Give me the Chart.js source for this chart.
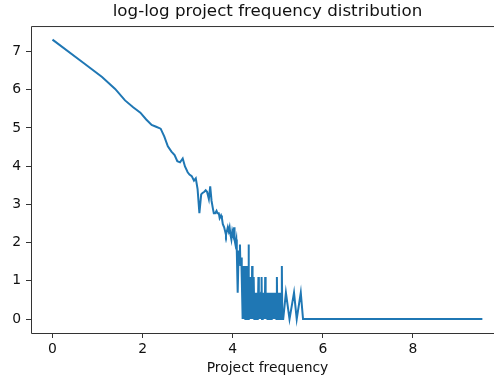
<!DOCTYPE html>
<html>
<head>
<meta charset="utf-8">
<script src="https://cdn.jsdelivr.net/npm/chart.js@4/dist/chart.umd.min.js"></script>
<style>
  html, body { margin: 0; padding: 0; background: #fff; overflow: hidden; }
  #wrap { width: 494px; height: 381px; overflow: hidden; position: relative; }
  #freqChart { position: absolute; left: 0; top: 0; }
</style>
</head>
<body>
<div id="wrap"><canvas id="freqChart" width="535" height="381"></canvas></div>
<script>
// ln(project frequency) and ln(number of users with that frequency)
const logFrequency = [
  0, 0.69, 1.10, 1.39, 1.61, 1.79, 1.95, 2.08, 2.20, 2.30,
  2.40, 2.48, 2.56, 2.64, 2.71, 2.77, 2.83, 2.89, 2.94, 3.00,
  3.04, 3.09, 3.14, 3.18, 3.22, 3.26, 3.30, 3.33, 3.37, 3.40,
  3.43, 3.47, 3.50, 3.53, 3.56, 3.58, 3.61, 3.64, 3.66, 3.69,
  3.71, 3.74, 3.76, 3.78, 3.81, 3.83, 3.85, 3.87, 3.89, 3.91,
  3.93, 3.95, 3.97, 3.99, 4.01, 4.03, 4.04, 4.06, 4.08, 4.09,
  4.11, 4.13, 4.14, 4.16, 4.17, 4.19, 4.20,
  4.22, 4.23, 4.24, 4.25, 4.26, 4.27, 4.28, 4.29, 4.30, 4.31,
  4.32, 4.33, 4.34, 4.35, 4.36, 4.37, 4.38, 4.39, 4.40, 4.41,
  4.42, 4.43, 4.44, 4.45, 4.46, 4.47, 4.48, 4.49, 4.50, 4.51,
  4.52, 4.53, 4.54, 4.55, 4.56, 4.57, 4.58, 4.59, 4.60, 4.61,
  4.62, 4.63, 4.64, 4.65, 4.66, 4.67, 4.68, 4.69, 4.70, 4.71,
  4.72, 4.73, 4.74, 4.75, 4.76, 4.77, 4.78, 4.79, 4.80, 4.81,
  4.82, 4.83, 4.84, 4.85, 4.86, 4.87, 4.88, 4.89, 4.90, 4.91,
  4.92, 4.93, 4.94, 4.95, 4.96, 4.97, 4.98, 4.99, 5.00, 5.01,
  5.02, 5.03, 5.04, 5.05, 5.06, 5.07, 5.08, 5.09, 5.10,
  5.12, 5.18, 5.26, 5.36, 5.42, 5.51, 5.56, 5.76, 6.12, 6.55, 7.21, 8.03, 9.54
];
const logCount = [
  7.31, 6.70, 6.33, 6.02, 5.72, 5.54, 5.40, 5.22, 5.08, 5.03,
  4.98, 4.78, 4.52, 4.38, 4.29, 4.13, 4.10, 4.20, 3.99, 3.84,
  3.78, 3.74, 3.62, 3.68, 3.40, 2.77, 3.26, 3.30, 3.33, 3.37,
  3.33, 3.14, 3.47, 3.09, 2.89, 2.77, 2.77, 2.83, 2.77, 2.77,
  2.64, 2.71, 2.64, 2.48, 2.40, 2.30, 2.20, 2.30, 2.40, 2.30,
  2.40, 2.20, 2.08, 2.30, 2.20, 2.40, 2.08, 1.95, 2.08, 1.79,
  0.69, 1.79, 1.61, 1.95, 1.39, 1.61, 1.10,
  0, 1.39, 0, 1.10, 0, 1.39, 0, 0.69, 0, 1.39,
  0, 0.69, 0, 1.95, 0, 0.69, 0, 1.10, 0, 0.69,
  0, 1.39, 0, 0.69, 0, 1.10, 0, 0.69, 0, 0.69,
  0, 0.69, 0, 0.69, 0, 1.10, 0, 0.69, 0, 0.69,
  0, 0.69, 1.10, 0, 0.69, 0, 0.69, 0, 0.69, 0,
  1.10, 0, 0.69, 0, 0.69, 0, 0.69, 0, 0.69, 0,
  0.69, 0, 0.69, 0, 0.69, 0, 0.69, 0, 0.69, 0,
  0.69, 0, 0.69, 0, 0.69, 0, 1.10, 0, 0.69, 0,
  0.69, 0, 0.69, 0, 0, 0.69, 0, 1.39, 0,
  0, 0.69, 0, 0.69, 0, 0.69, 0, 0, 0, 0, 0, 0, 0
];
const chartTitle = 'log-log project frequency distribution';
const xAxisLabel = 'Project frequency';

const FONT = 'DejaVu Sans';
const INK = '#111';
const SPINE = '#333';

// left, bottom and top spines of the axes box; the right one sits off-canvas
const axesFrame = {
  id: 'axesFrame',
  afterDraw(chart) {
    const { ctx, chartArea: a } = chart;
    ctx.save();
    ctx.strokeStyle = SPINE;
    ctx.lineWidth = 1;
    ctx.beginPath();
    ctx.moveTo(a.right + 20, a.top + 0.5);
    ctx.lineTo(a.left + 0.5, a.top + 0.5);
    ctx.lineTo(a.left + 0.5, a.bottom + 0.5);
    ctx.lineTo(a.right + 20, a.bottom + 0.5);
    ctx.stroke();
    ctx.restore();
  }
};

const points = logFrequency.map((x, i) => ({ x, y: logCount[i] }));

new Chart(document.getElementById('freqChart'), {
  type: 'line',
  data: {
    datasets: [{
      data: points,
      borderColor: '#1f77b4',
      borderWidth: 2,
      pointRadius: 0,
      tension: 0,
      fill: false
    }]
  },
  options: {
    responsive: false,
    animation: false,
    layout: { padding: { left: 0, right: 31, top: 0, bottom: 0 } },
    plugins: {
      legend: { display: false },
      tooltip: { enabled: false },
      title: {
        display: true,
        text: chartTitle,
        fullSize: false,
        color: INK,
        font: { family: FONT, size: 16.7, weight: 'normal' },
        padding: { top: 2, bottom: 4 }
      }
    },
    scales: {
      x: {
        type: 'linear',
        min: -0.477,
        max: 10.02,
        afterFit(scale) { scale.height = 48; },
        ticks: {
          stepSize: 2,
          includeBounds: false,
          color: INK,
          padding: 3,
          maxRotation: 0,
          font: { family: FONT, size: 13.9 }
        },
        grid: { drawOnChartArea: false, drawTicks: true, tickLength: 5, color: SPINE },
        border: { display: false },
        title: {
          display: true,
          text: xAxisLabel,
          color: INK,
          font: { family: FONT, size: 13.9 },
          padding: { top: 0, bottom: 4 }
        }
      },
      y: {
        type: 'linear',
        min: -0.365,
        max: 7.665,
        afterFit(scale) { scale.width = 31; },
        ticks: {
          stepSize: 1,
          includeBounds: false,
          color: INK,
          padding: 5,
          font: { family: FONT, size: 13.9 }
        },
        grid: { drawOnChartArea: false, drawTicks: true, tickLength: 5, color: SPINE },
        border: { display: false }
      }
    }
  },
  plugins: [axesFrame]
});
</script>
</body>
</html>
